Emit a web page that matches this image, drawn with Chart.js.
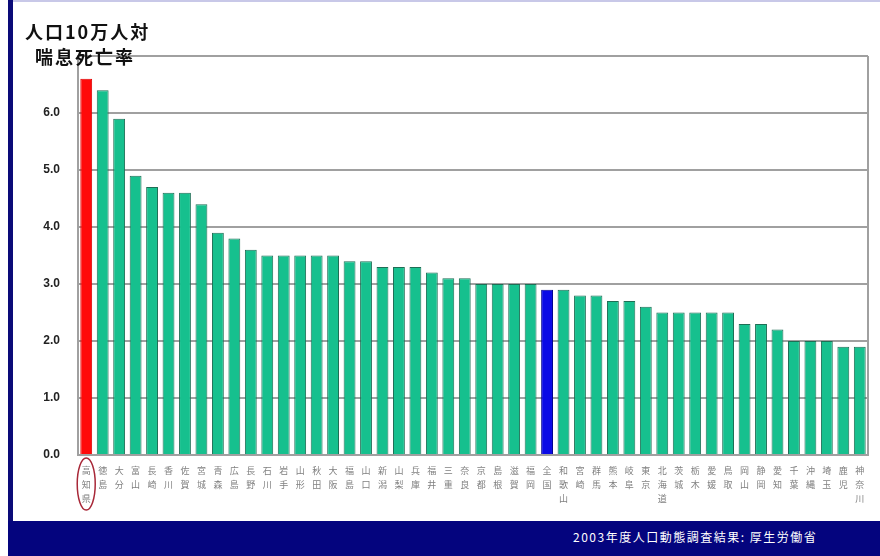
<!DOCTYPE html>
<html>
<head>
<meta charset="utf-8">
<script src="https://cdn.jsdelivr.net/npm/chart.js@4"></script>
<style>
    html, body { margin: 0; padding: 0; background: #fff; }
    body { width: 880px; height: 556px; position: relative; overflow: hidden; font-family: "Noto Sans CJK JP", sans-serif; }
    #wrap { position: absolute; left: 0; top: 0; width: 880px; height: 520px; }
    .leftbar { position: absolute; left: 8px; top: 0; width: 5px; height: 522px; background: #0a0a78; }
    .topline { position: absolute; left: 8px; top: 0; width: 872px; height: 2px; background: #c8c8e8; }
    .footer { position: absolute; left: 8px; top: 521px; width: 872px; height: 35px; background: #04047e; }
    .footer span { position: absolute; left: 565px; top: 7px; color: #fff; font-size: 12px; letter-spacing: 1.5px; }
    .title { position: absolute; color: #111; font-weight: bold; font-size: 18px; letter-spacing: 2px; z-index: 2; white-space: nowrap; }
</style>
</head>
<body>
<div class="topline"></div>
<div class="leftbar"></div>
<div id="wrap"><canvas id="myChart"></canvas></div>
<div class="title" style="left:25px; top:18px;">人口10万人対</div>
<div class="title" style="left:35px; top:43px;">喘息死亡率</div>
<div class="footer"><span>2003年度人口動態調査結果: 厚生労働省</span></div>
<script>
(function () {
    const prefectures = [
        '高知県', '徳島', '大分', '富山', '長崎', '香川', '佐賀', '宮城', '青森', '広島', '長野', '石川',
        '岩手', '山形', '秋田', '大阪', '福島', '山口', '新潟', '山梨', '兵庫', '福井', '三重', '奈良',
        '京都', '島根', '滋賀', '福岡', '全国', '和歌山', '宮崎', '群馬', '熊本', '岐阜', '東京', '北海道',
        '茨城', '栃木', '愛媛', '鳥取', '岡山', '静岡', '愛知', '千葉', '沖縄', '埼玉', '鹿児', '神奈川'
    ];
    const deathRates = [
        6.6, 6.4, 5.9, 4.9, 4.7, 4.6, 4.6, 4.4, 3.9, 3.8, 3.6, 3.5,
        3.5, 3.5, 3.5, 3.5, 3.4, 3.4, 3.3, 3.3, 3.3, 3.2, 3.1, 3.1,
        3.0, 3.0, 3.0, 3.0, 2.9, 2.9, 2.8, 2.8, 2.7, 2.7, 2.6, 2.5,
        2.5, 2.5, 2.5, 2.5, 2.3, 2.3, 2.2, 2.0, 2.0, 2.0, 1.9, 1.9
    ];
    const yTicks = [0, 1, 2, 3, 4, 5, 6, 7];

    const colors = prefectures.map(p => p === '高知県' ? '#ff0a0a' : (p === '全国' ? '#0a0ae6' : '#16c08e'));
    const borders = prefectures.map(p => p === '高知県' ? '#e00000' : (p === '全国' ? '#000090' : '#1e6e55'));

    // red circle round the Kochi label, plus the right frame line
    const extras = {
        id: 'extras',
        afterDraw(chart) {
            const c = chart.ctx;
            const a = chart.chartArea;
            c.save();
            c.strokeStyle = '#a0a0a0';
            c.lineWidth = 2;
            c.beginPath();
            c.moveTo(a.right, a.top);
            c.lineTo(a.right, a.bottom);
            c.stroke();
            const x = chart.scales.x.getPixelForValue(0);
            c.strokeStyle = '#a82838';
            c.lineWidth = 1.5;
            c.beginPath();
            c.ellipse(x, a.bottom + 29, 9, 26, 0, 0, Math.PI * 2);
            c.stroke();
            c.restore();
        }
    };

    const data = {
        labels: prefectures.map(p => p.split('')),
        datasets: [{
            data: deathRates,
            backgroundColor: colors,
            borderColor: borders,
            borderWidth: 1,
            barPercentage: 0.72,
            categoryPercentage: 1.0
        }]
    };

    const config = {
        type: 'bar',
        data: data,
        options: {
            responsive: true,
            maintainAspectRatio: false,
            animation: false,
            layout: { padding: { top: 56, right: 12, left: 0, bottom: 0 } },
            scales: {
                y: {
                    min: 0,
                    max: 7,
                    afterBuildTicks: s => { s.ticks = yTicks.map(v => ({ value: v })); },
                    afterFit: s => { s.width = 78; },
                    grid: { color: '#a0a0a0', lineWidth: 2, drawTicks: false },
                    border: { color: '#a0a0a0', width: 2 },
                    ticks: {
                        padding: 18,
                        color: '#222',
                        font: { size: 12, weight: 'bold', family: 'Arial, Liberation Sans' },
                        callback: v => v === 7 ? '' : v.toFixed(1)
                    }
                },
                x: {
                    afterFit: s => { s.height = 65; },
                    grid: { display: false },
                    border: { color: '#a0a0a0', width: 2 },
                    ticks: {
                        autoSkip: false,
                        maxRotation: 0,
                        padding: 1,
                        color: '#808080',
                        font: { size: 9, family: 'Noto Sans CJK JP', lineHeight: 1.55 }
                    }
                }
            },
            plugins: {
                legend: { display: false },
                tooltip: { enabled: false }
            }
        },
        plugins: [extras]
    };

    const ctx = document.getElementById('myChart');
    if (ctx) {
        new Chart(ctx, config);
    }
})();
</script>
</body>
</html>
